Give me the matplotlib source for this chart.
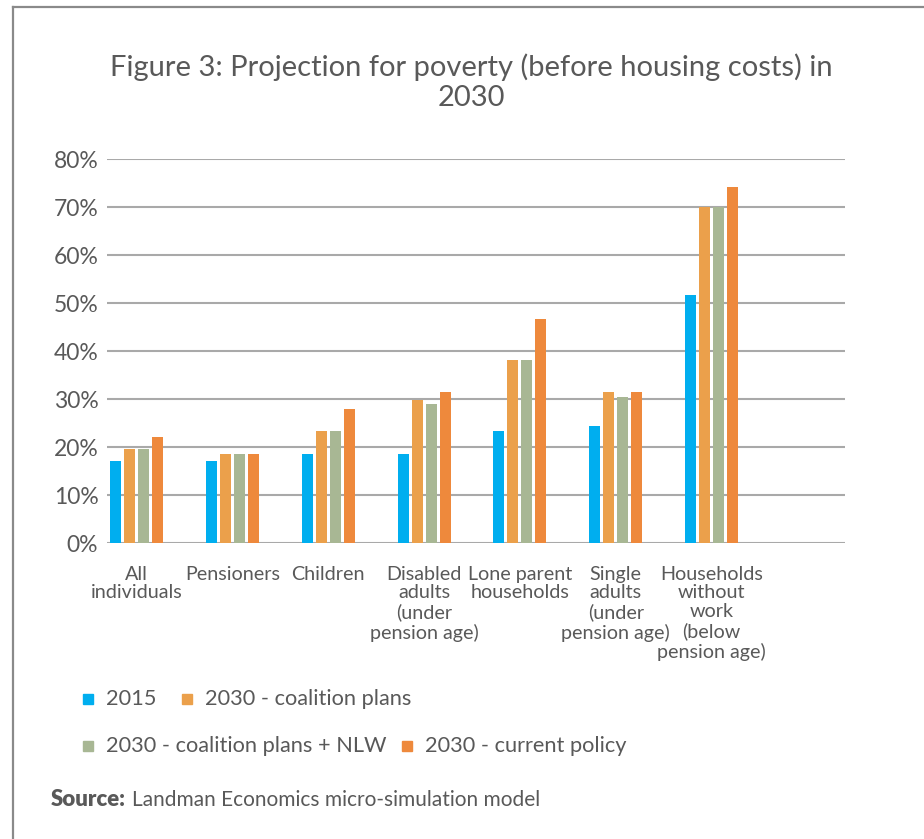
import matplotlib
matplotlib.use("Agg")
import matplotlib.pyplot as plt
from matplotlib.lines import Line2D
import numpy as np

plt.rcParams['font.family'] = ['Lato', 'DejaVu Sans']

categories = [
    "All\nindividuals",
    "Pensioners",
    "Children",
    "Disabled\nadults\n(under\npension age)",
    "Lone parent\nhouseholds",
    "Single\nadults\n(under\npension age)",
    "Households\nwithout\nwork\n(below\npension age)",
]
series_names = [
    "2015",
    "2030 - coalition plans",
    "2030 - coalition plans + NLW",
    "2030 - current policy",
]
values_2015 = [17.1, 17.1, 18.6, 18.6, 23.4, 24.4, 51.7]
values_coalition = [19.7, 18.6, 23.4, 29.9, 38.2, 31.6, 70.0]
values_coalition_nlw = [19.7, 18.6, 23.4, 29.0, 38.2, 30.5, 70.0]
values_current = [22.1, 18.6, 28.0, 31.6, 46.7, 31.6, 74.2]
y_ticks = [0, 10, 20, 30, 40, 50, 60, 70, 80]

colors = ["#00AEEF", "#EBA04B", "#A8B794", "#EE893C"]
text_col = "#595959"

W, H = 924, 839
fig = plt.figure(figsize=(W / 100, H / 100), dpi=100)

# outer frame: left and top rules only
fig.add_artist(Line2D([13 / W, 13 / W], [0, 1 - 7 / H], color="#8a8a8a", lw=1.6,
                      transform=fig.transFigure))
fig.add_artist(Line2D([13 / W, 1], [1 - 7 / H, 1 - 7 / H], color="#8a8a8a", lw=1.6,
                      transform=fig.transFigure))

ax_left, ax_right, ax_bottom, ax_top = 106.7, 845, 543.3, 159.3
ax = fig.add_axes([ax_left / W, 1 - ax_bottom / H,
                   (ax_right - ax_left) / W, (ax_bottom - ax_top) / H])

x = np.arange(len(categories))
step = 0.146
width = 0.115
all_series = [values_2015, values_coalition, values_coalition_nlw, values_current]
for i, (vals, col) in enumerate(zip(all_series, colors)):
    ax.bar(x + (i - 1.5) * step, vals, width=width, color=col, zorder=3)

ax.set_ylim(0, 80)
ax.set_xlim(-0.31, 7.39)
ax.set_yticks(y_ticks)
ax.set_yticklabels([f"{v}%" for v in y_ticks], fontsize=16.5, color=text_col)
ax.set_xticks(x)
ax.set_xticklabels(categories, fontsize=14.2, color=text_col, linespacing=1.14)
ax.tick_params(axis="both", length=0)
ax.tick_params(axis="y", pad=6)
ax.tick_params(axis="x", pad=16)
for spine in ax.spines.values():
    spine.set_visible(False)
ax.grid(axis="y", color="#a9a9a9", lw=1.5, zorder=0)
ax.set_axisbelow(True)

fig.text(471 / W, 1 - 82 / H, "Figure 3: Projection for poverty (before housing costs) in\n2030",
         ha="center", va="center", fontsize=21, color=text_col, linespacing=1.2)

# legend, two rows
leg_items = [(0, 83, 699), (1, 182, 699), (2, 83, 746), (3, 402, 746)]
for idx, x0, ypix in leg_items:
    fig.add_artist(plt.Rectangle((x0 / W, 1 - (ypix + 5) / H), 10 / W, 10 / H,
                                 transform=fig.transFigure, color=colors[idx]))
    fig.text((x0 + 23) / W, 1 - ypix / H, series_names[idx], ha="left", va="center",
             fontsize=15.7, color=text_col)

fig.text(126 / W, 1 - 800 / H, "Source:", ha="right", va="center", fontsize=16,
         fontweight="heavy", color=text_col)
fig.text(132 / W, 1 - 800 / H, "Landman Economics micro-simulation model", ha="left",
         va="center", fontsize=15, color=text_col)

fig.savefig("out.png", dpi=100, facecolor="white")
